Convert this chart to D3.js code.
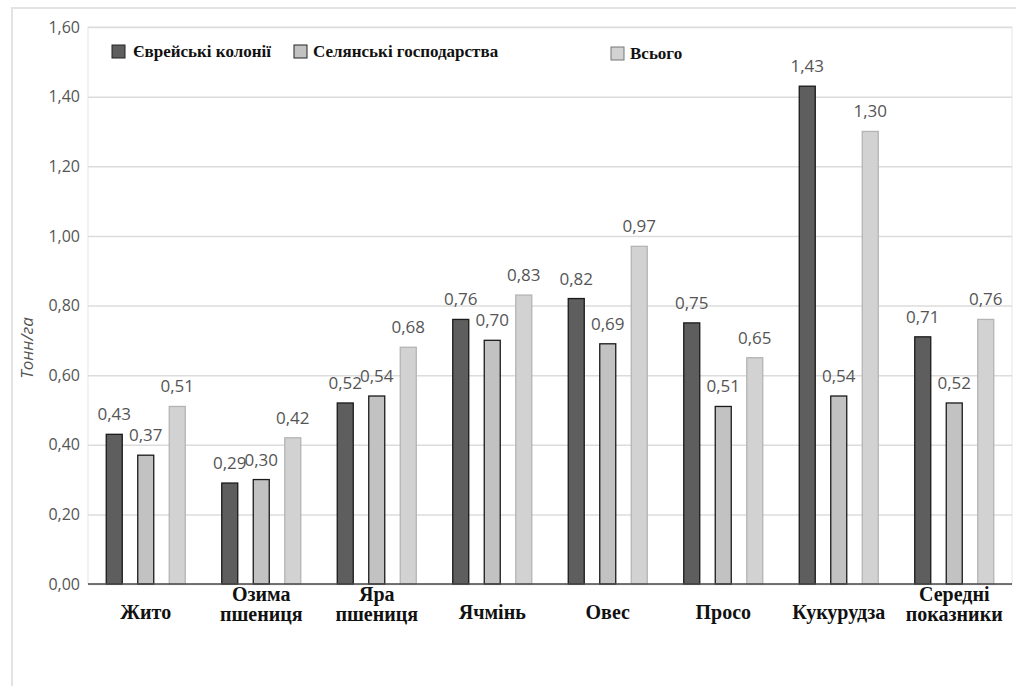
<!DOCTYPE html>
<html>
<head>
<meta charset="utf-8">
<script src="https://cdn.jsdelivr.net/npm/d3@7/dist/d3.min.js"></script>
<style>
  body { margin: 0; background: #fff; }
  svg { display: block; }
  .serif { font-family: 'Liberation Serif', 'Times New Roman', serif; font-weight: bold; }
</style>
</head>
<body>
<script>
const categories = [['Жито'], ['Озима', 'пшениця'], ['Яра', 'пшениця'], ['Ячмінь'], ['Овес'], ['Просо'], ['Кукурудза'], ['Середні', 'показники']]
const seriesNames = ['Єврейські колонії', 'Селянські господарства', 'Всього']
const jewish = [0.43, 0.29, 0.52, 0.76, 0.82, 0.75, 1.43, 0.71]
const peasant = [0.37, 0.30, 0.54, 0.70, 0.69, 0.51, 0.54, 0.52]
const total = [0.51, 0.42, 0.68, 0.83, 0.97, 0.65, 1.30, 0.76]
const yTicks = [0, 0.2, 0.4, 0.6, 0.8, 1.0, 1.2, 1.4, 1.6]

const W = 1016, H = 686
const m = {left: 88, right: 1012, top: 27, bottom: 584}
const fills = ['#5e5e5e', '#c2c2c2', '#d2d2d2']
const strokes = ['#1a1a1a', '#1a1a1a', '#b4b4b4']
const fmt = v => v.toFixed(2).replace('.', ',')

const svg = d3.select('body').append('svg').attr('width', W).attr('height', H)

// outer frame
svg.append('rect').attr('x', 12).attr('y', 8).attr('width', W).attr('height', H)
  .attr('fill', '#fff').attr('stroke', '#e3e3e3').attr('stroke-width', 2)

const y = d3.scaleLinear().domain([0, 1.6]).range([m.bottom, m.top])
const keys = categories.map(c => c.join(' '))
const x0 = d3.scaleBand().domain(keys).range([m.left, m.right])
const x1 = d3.scalePoint().domain(seriesNames).range([-31.5, 31.5])
const barW = 16

// plot frame + grid
svg.append('rect').attr('x', m.left).attr('y', m.top)
  .attr('width', m.right - m.left).attr('height', m.bottom - m.top)
  .attr('fill', 'none').attr('stroke', '#e6e6e6')

const yAxis = svg.append('g').attr('transform', `translate(${m.left},0)`)
  .call(d3.axisLeft(y).tickValues(yTicks).tickFormat(fmt).tickSize(-(m.right - m.left)).tickPadding(8))
yAxis.select('.domain').remove()
yAxis.selectAll('.tick line').attr('stroke', '#dcdcdc').attr('stroke-width', 1.5)
yAxis.selectAll('.tick text').attr('fill', '#555').attr('font-family', 'Open Sans, sans-serif').attr('font-size', 16)

svg.append('text')
  .attr('transform', `translate(33,348) rotate(-90)`)
  .attr('text-anchor', 'middle')
  .attr('font-family', 'Open Sans, sans-serif').attr('font-style', 'italic')
  .attr('font-size', 17).attr('fill', '#555')
  .text('Тонн/га')

const data = [jewish, peasant, total]
seriesNames.forEach((s, si) => {
  const g = svg.append('g')
  g.selectAll('rect').data(data[si]).join('rect')
    .attr('x', (d, i) => x0(keys[i]) + x0.bandwidth() / 2 + x1(s) - barW / 2)
    .attr('y', d => y(d))
    .attr('width', barW)
    .attr('height', d => y(0) - y(d))
    .attr('fill', fills[si]).attr('stroke', strokes[si]).attr('stroke-width', 1.3)
  g.selectAll('text').data(data[si]).join('text')
    .attr('x', (d, i) => x0(keys[i]) + x0.bandwidth() / 2 + x1(s))
    .attr('y', d => y(d) - 14)
    .attr('text-anchor', 'middle')
    .attr('font-family', 'Open Sans, sans-serif').attr('font-size', 17)
    .attr('fill', '#555')
    .text(fmt)
})

// baseline
svg.append('line').attr('x1', m.left).attr('x2', m.right).attr('y1', y(0)).attr('y2', y(0))
  .attr('stroke', '#4a4a4a').attr('stroke-width', 1.5)

// category labels
const catG = svg.append('g')
categories.forEach((lines, i) => {
  const cx = x0(keys[i]) + x0.bandwidth() / 2
  const t = catG.append('text').attr('class', 'serif').attr('text-anchor', 'middle')
    .attr('font-size', 20).attr('fill', '#111')
  const y0 = lines.length === 1 ? 619 : 601
  lines.forEach((l, j) => t.append('tspan').attr('x', cx).attr('y', y0 + j * 20).text(l))
})

// legend
const legendX = [112, 294, 611]
const legend = svg.append('g')
seriesNames.forEach((s, i) => {
  const ly = i === 2 ? 47 : 45
  legend.append('rect').attr('x', legendX[i]).attr('y', ly).attr('width', 13).attr('height', 13)
    .attr('fill', fills[i]).attr('stroke', i === 2 ? '#777' : '#222').attr('stroke-width', 1)
  legend.append('text').attr('class', 'serif').attr('x', legendX[i] + (i === 0 ? 21 : 19)).attr('y', ly + 12)
    .attr('font-size', 17).attr('fill', '#111')
    .text(s)
})
</script>
</body>
</html>
